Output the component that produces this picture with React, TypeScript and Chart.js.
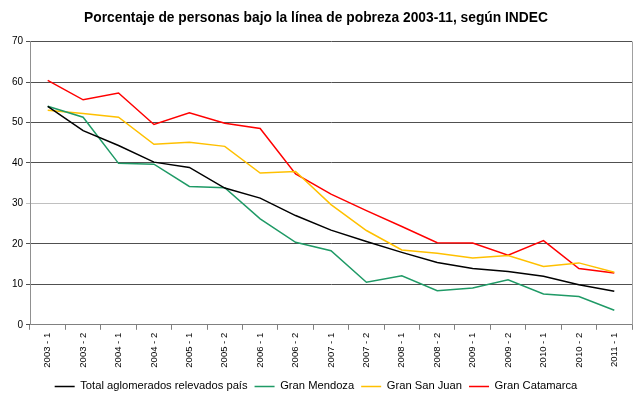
import React, { useEffect, useRef } from "react";
import { Chart, registerables } from "chart.js";

Chart.register(...registerables);

const categories = [
  "2003 - 1", "2003 - 2", "2004 - 1", "2004 - 2", "2005 - 1", "2005 - 2",
  "2006 - 1", "2006 - 2", "2007 - 1", "2007 - 2", "2008 - 1", "2008 - 2",
  "2009 - 1", "2009 - 2", "2010 - 1", "2010 - 2", "2011 - 1",
];

const totalPais = [54.0, 48.0, 44.3, 40.2, 38.9, 33.8, 31.3, 27.0, 23.4, 20.6, 17.9, 15.4, 13.9, 13.2, 12.0, 9.9, 8.3];
const granMendoza = [54.0, 51.3, 39.9, 39.7, 34.2, 33.9, 26.2, 20.4, 18.3, 10.5, 12.1, 8.4, 9.1, 11.1, 7.6, 7.0, 3.6];
const granSanJuan = [53.0, 52.2, 51.3, 44.6, 45.1, 44.1, 37.5, 37.9, 29.7, 23.3, 18.5, 17.7, 16.5, 17.1, 14.4, 15.3, 13.0];
const granCatamarca = [60.4, 55.6, 57.3, 49.5, 52.4, 49.8, 48.5, 37.3, 32.3, 28.2, 24.3, 20.3, 20.2, 17.2, 20.8, 13.9, 12.8];

const seriesNames = ["Total aglomerados relevados país", "Gran Mendoza", "Gran San Juan", "Gran Catamarca"];
const seriesColors = ["#000000", "#1f9a66", "#ffc000", "#ff0000"];
const yTicks = [0, 10, 20, 30, 40, 50, 60, 70];

const FONT = "'Liberation Sans', Arial, sans-serif";

const rightBorder = {
  id: "rightBorder",
  afterDatasetsDraw(chart: any) {
    const { ctx, chartArea } = chart;
    ctx.save();
    ctx.strokeStyle = "#a0a0a0";
    ctx.lineWidth = 1;
    ctx.beginPath();
    ctx.moveTo(Math.round(chartArea.right) + 0.5, chartArea.top);
    ctx.lineTo(Math.round(chartArea.right) + 0.5, chartArea.bottom);
    ctx.stroke();
    ctx.restore();
  },
};

export default function App() {
  const ref = useRef<HTMLCanvasElement | null>(null);
  useEffect(() => {
    document.body.style.margin = "0";
    const data = [totalPais, granMendoza, granSanJuan, granCatamarca];
    const chart = new Chart(ref.current as HTMLCanvasElement, {
      type: "line",
      data: {
        labels: categories,
        datasets: data.map((d, i) => ({
          label: seriesNames[i],
          data: d,
          borderColor: seriesColors[i],
          backgroundColor: seriesColors[i],
          borderWidth: 1.5,
          pointRadius: 0,
          tension: 0,
          fill: false,
        })),
      },
      options: {
        animation: false,
        responsive: false,
        maintainAspectRatio: false,
        layout: { padding: { left: 0, right: 8, top: 0, bottom: -6 } },
        plugins: {
          title: {
            display: true,
            text: "Porcentaje de personas bajo la línea de pobreza 2003-11, según INDEC",
            color: "#000",
            font: { family: FONT, size: 13.8, weight: "bold" },
            padding: { top: 10, bottom: 15 },
          },
          legend: {
            position: "bottom",
            labels: {
              color: "#000",
              font: { family: FONT, size: 11.2 },
              usePointStyle: true,
              pointStyle: "line",
              pointStyleWidth: 20,
              boxWidth: 20,
              padding: 7,
            },
          },
          tooltip: { enabled: false },
        },
        scales: {
          x: {
            offset: true,
            grid: {
              display: true,
              offset: true,
              drawOnChartArea: false,
              drawTicks: true,
              tickLength: 5,
              color: "#808080",
            },
            border: { display: true, color: "#808080" },
            ticks: {
              color: "#000",
              font: { family: FONT, size: 9.5 },
              minRotation: 90,
              maxRotation: 90,
              autoSkip: false,
              padding: 3,
            },
            afterFit(scale: any) {
              scale.height = 49;
            },
          },
          y: {
            min: 0,
            max: 70,
            afterBuildTicks(scale: any) {
              scale.ticks = yTicks.map((v) => ({ value: v }));
            },
            grid: {
              color: (c: any) => (c.tick && c.tick.value === 30 ? "#c0c0c0" : "#505050"),
              drawTicks: true,
              tickLength: 4,
            },
            border: { display: true, color: "#909090" },
            ticks: {
              color: "#000",
              font: { family: FONT, size: 10 },
              padding: 3,
            },
            afterFit(scale: any) {
              scale.width = 30;
            },
          },
        },
      },
      plugins: [rightBorder],
    });
    return () => chart.destroy();
  }, []);
  return (
    <div style={{ width: 640, height: 396, background: "#fff" }}>
      <canvas ref={ref} width={640} height={396} />
    </div>
  );
}
